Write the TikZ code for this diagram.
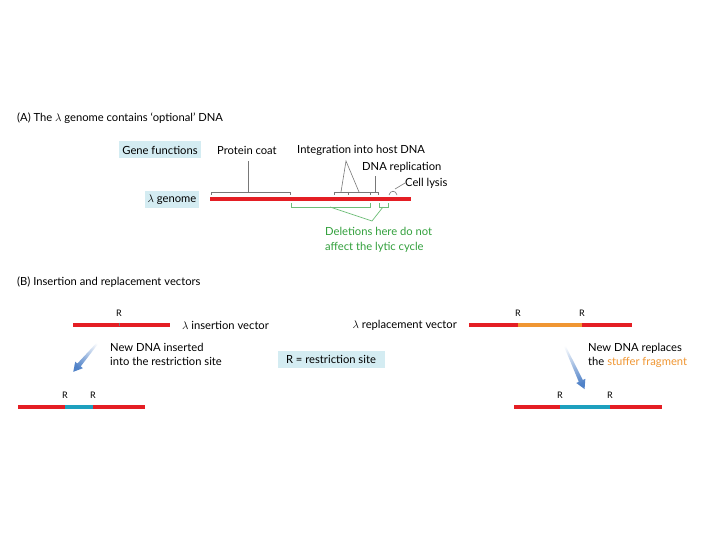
\documentclass[tikz,border=0pt]{standalone}
\usepackage{fontspec}
\setmainfont{Lato}
\usetikzlibrary{calc}
\definecolor{dnared}{RGB}{228,30,36}
\definecolor{stuffer}{RGB}{240,150,50}
\definecolor{insert}{RGB}{30,160,190}
\definecolor{boxblue}{RGB}{212,236,242}
\definecolor{brgray}{RGB}{120,120,120}
\definecolor{brgreen}{RGB}{110,190,120}
\definecolor{txgreen}{RGB}{50,160,60}
\definecolor{arrowblue}{RGB}{80,130,200}
\tikzset{
  lbl/.style={font=\fontsize{11.2}{13}\selectfont, inner sep=0pt},
  rlbl/.style={font=\fontsize{9}{10}\selectfont, inner sep=0pt},
  bluebox/.style={lbl, fill=boxblue, inner xsep=3pt, minimum height=17pt},
  dna/.style={line width=3.6pt},
  bracket/.style={brgray, line width=0.6pt},
  gbracket/.style={brgreen, line width=0.7pt}
}
% #1 start, #2 direction angle, #3 length, #4 shading angle
\newcommand\myfatarrow[4]{%
  \begin{scope}[shift={#1}, rotate=#2]
    \shade[bottom color=white, top color=arrowblue, shading angle=#4]
      (0,-0.6) -- (#3-9,-2.2) -- (#3-9,-5) -- (#3,0) -- (#3-9,5) -- (#3-9,2.2) -- (0,0.6) -- cycle;
  \end{scope}}
\begin{document}
\begin{tikzpicture}[x=1pt,y=-1pt]
\useasboundingbox (0,0) rectangle (720,540);
\fill[white] (0,0) rectangle (720,540);

% ---------- Part A ----------
\node[lbl, anchor=west] (titleA) at (17,118) {(A) The $\lambda$ genome contains `optional' DNA};
\node[bluebox] (genefn) at (160,150) {Gene functions};
\node[lbl, anchor=west] (pcoat) at (217,150) {Protein coat};
\node[lbl, anchor=west] (integ) at (297,150) {Integration into host DNA};
\node[lbl, anchor=west] (dnarep) at (362,167) {DNA replication};
\node[lbl, anchor=west] (lysis) at (405,183) {Cell lysis};
\node[bluebox] (lgen) at (172,200) {$\lambda$ genome};

\coordinate (g1) at (210,199);
\coordinate (g2) at (411,199);
\draw[dna, dnared] (g1) -- (g2);

% protein coat bracket
\coordinate (pc1) at (211,192); \coordinate (pc2) at (290,192);
\coordinate (pcm) at (248,192); \coordinate (pctop) at (248,161);
\draw[bracket] ($(pc1)+(0,3)$) -- (pc1) -- (pc2) -- ($(pc2)+(0,3)$);
\draw[bracket] (pcm) -- (pctop);

% integration bracket
\coordinate (in1) at (334,192); \coordinate (in2) at (370,192);
\coordinate (inapex) at (346,161);
\draw[bracket] ($(in1)+(0,3)$) -- (in1) -- (in2) -- ($(in2)+(0,3)$);
\draw[bracket] (348,192) -- (348,195);
\draw[bracket] (341,192) -- (inapex) -- (359,192);

% DNA replication bracket
\coordinate (dr1) at (370,192); \coordinate (dr2) at (378,192);
\draw[bracket] (dr1) -- (dr2) -- ($(dr2)+(0,3)$);
\draw[bracket] (375,192) -- (375,176);

% cell lysis bracket
\coordinate (cl1) at (389,195); \coordinate (cl2) at (397,195);
\draw[bracket] (cl1) .. controls (390,190) and (396,190) .. (cl2);
\coordinate (clp) at (395,189);
\draw[bracket] (lysis.west) -- (clp);

% green deletion brackets
\coordinate (gb1) at (291,207); \coordinate (gb2) at (370,207);
\coordinate (gs1) at (379,207); \coordinate (gs2) at (388,207);
\coordinate (gpt) at (372,221);
\draw[gbracket] ($(gb1)+(0,-4)$) -- (gb1) -- (gb2) -- ($(gb2)+(0,-4)$);
\draw[gbracket] ($(gs1)+(0,-4)$) -- (gs1) -- (gs2) -- ($(gs2)+(0,-4)$);
\draw[gbracket] (330,207) -- (gpt) -- (383,207);
\node[lbl, anchor=north west, align=left, text=txgreen, font=\fontsize{11.2}{15}\selectfont] (deltext) at (325,227)
  {Deletions here do not\\affect the lytic cycle};

% ---------- Part B ----------
\node[lbl, anchor=west] (titleB) at (17,282) {(B) Insertion and replacement vectors};

% insertion vector
\coordinate (iv1) at (73,325); \coordinate (ivr) at (119,325); \coordinate (iv2) at (170,325);
\draw[dna, dnared] (iv1) -- (iv2);
\draw[brgray, line width=0.6pt] ($(ivr)+(0,-2.5)$) -- ($(ivr)+(0,1)$);
\node[rlbl] (ivR) at (119,313) {R};
\node[lbl, anchor=west] (ivtext) at (182,325) {$\lambda$ insertion vector};

\myfatarrow{(101,339)}{-130.2}{43}{139.8}
\node[lbl, anchor=north west, align=left, font=\fontsize{11.2}{14}\selectfont] (instext) at (110,343)
  {New DNA inserted\\into the restriction site};

% restriction site key
\node[bluebox, minimum width=107pt] (rkey) at (331,359) {R = restriction site};

% recombinant insertion
\coordinate (bl1) at (18,407); \coordinate (blr1) at (65,407);
\coordinate (blr2) at (93,407); \coordinate (bl2) at (145,407);
\draw[dna, dnared] (bl1) -- (blr1);
\draw[dna, insert] (blr1) -- (blr2);
\draw[dna, dnared] (blr2) -- (bl2);
\node[rlbl] (blR1) at (65,395) {R};
\node[rlbl] (blR2) at (93,395) {R};

% replacement vector
\node[lbl, anchor=east] (rvtext) at (457,325) {$\lambda$ replacement vector};
\coordinate (rv1) at (469,325); \coordinate (rvr1) at (518,325);
\coordinate (rvr2) at (582,325); \coordinate (rv2) at (632,325);
\draw[dna, dnared] (rv1) -- (rvr1);
\draw[dna, stuffer] (rvr1) -- (rvr2);
\draw[dna, dnared] (rvr2) -- (rv2);
\node[rlbl] (rvR1) at (518,313) {R};
\node[rlbl] (rvR2) at (582,313) {R};

\myfatarrow{(562,340)}{-65.3}{54}{-155.3}
\node[lbl, anchor=north west, align=left, font=\fontsize{11.2}{14}\selectfont] (reptext) at (588,343)
  {New DNA replaces\\the \textcolor{stuffer}{stuffer fragment}};

% recombinant replacement
\coordinate (br1) at (514,407); \coordinate (brr1) at (560,407);
\coordinate (brr2) at (610,407); \coordinate (br2) at (662,407);
\draw[dna, dnared] (br1) -- (brr1);
\draw[dna, insert] (brr1) -- (brr2);
\draw[dna, dnared] (brr2) -- (br2);
\node[rlbl] (brR1) at (560,395) {R};
\node[rlbl] (brR2) at (610,395) {R};
\end{tikzpicture}
\end{document}
